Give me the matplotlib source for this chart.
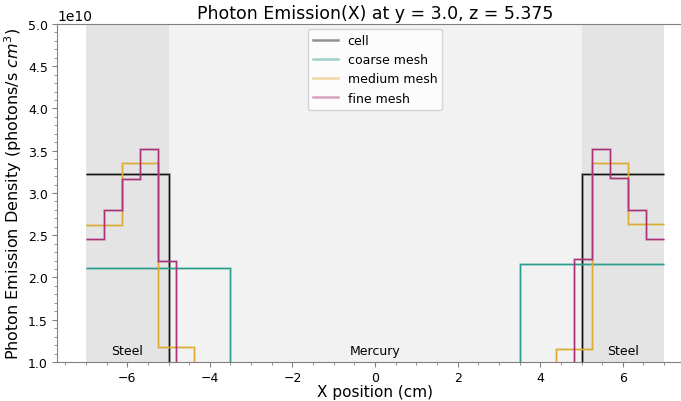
import numpy as np
import matplotlib.pyplot as plt

# bin edges (cm)
cell_edges = [-7.0, -5.0, 5.0, 7.0]
coarse_edges = np.linspace(-7, 7, 5)
medium_edges = np.linspace(-7, 7, 17)
fine_edges = np.linspace(-7, 7, 33)

# photon emission density (photons/s cm^3), mercury cells read as below the axis
low = 0.6e10
cell_vals = [3.22e10, low, 3.22e10]
coarse_vals = [2.11e10, low, low, 2.16e10]
medium_vals = [2.625e10, 3.35e10, 1.18e10] + [low] * 10 + [1.15e10, 3.35e10, 2.63e10]
fine_vals = [2.45e10, 2.80e10, 3.17e10, 3.52e10, 2.20e10] + [low] * 22 + \
            [2.22e10, 3.52e10, 3.18e10, 2.80e10, 2.46e10]

names = ['cell', 'coarse mesh', 'medium mesh', 'fine mesh']
colors = ['#111111', '#2a9d8f', '#ddaa33', '#aa3377']

fig = plt.figure(figsize=(6.81, 4.02), dpi=100)
ax = fig.add_axes([0.0837, 0.097, 0.934, 0.841])

# regions
ax.axvspan(-7, 7, color='#f2f2f2', lw=0, zorder=0)
ax.axvspan(-7, -5, color='#e4e4e4', lw=0, zorder=0)
ax.axvspan(5, 7, color='#e4e4e4', lw=0, zorder=0)

series = [(cell_vals, cell_edges), (coarse_vals, coarse_edges),
          (medium_vals, medium_edges), (fine_vals, fine_edges)]
for (vals, edges), name, c in zip(series, names, colors):
    ax.stairs(vals, edges, baseline=None, color=c, lw=1.8, alpha=0.45, label=name)
    ax.stairs(vals, edges, baseline=None, color=c, lw=0.8)

ax.text(-6, 1.14e10, 'Steel', ha='center', va='center', fontsize=9)
ax.text(6, 1.14e10, 'Steel', ha='center', va='center', fontsize=9)
ax.text(0, 1.14e10, 'Mercury', ha='center', va='center', fontsize=9)

ax.set_xlim(-7.7, 7.7)
ax.set_ylim(1.0e10, 5.0e10)
ax.minorticks_on()
for s in ax.spines.values():
    s.set_color('#808080')
ax.tick_params(which='both', colors='#808080', labelcolor='black', labelsize=9)
ax.tick_params(which='major', length=3.5, pad=3)

ax.set_title('Photon Emission(X) at y = 3.0, z = 5.375', fontsize=12.5, pad=4)
ax.set_xlabel('X position (cm)', fontsize=11, labelpad=0)
ax.set_ylabel('Photon Emission Density (photons/s $cm^3$)', fontsize=11.5, labelpad=3)
ax.legend(loc='upper center', fontsize=9, borderaxespad=0.4)

fig.savefig('out.png')
